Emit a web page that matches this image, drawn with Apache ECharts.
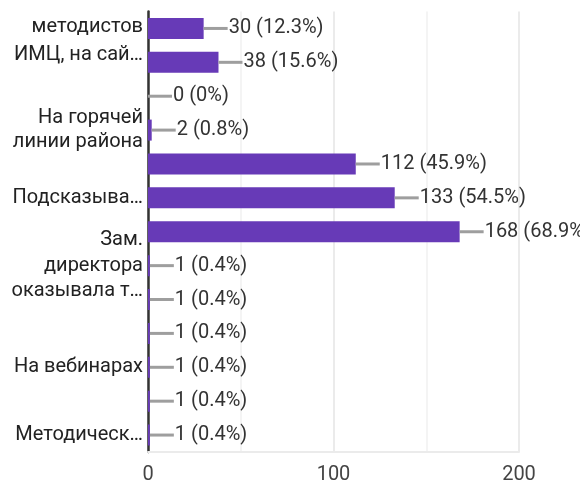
<!DOCTYPE html>
<html>
<head>
<meta charset="utf-8">
<script src="https://cdn.jsdelivr.net/npm/echarts@6/dist/echarts.min.js"></script>
<style>html,body{margin:0;padding:0;background:#fff}#c{width:580px;height:484px}</style>
</head>
<body>
<div id="c"></div>
<script>
const categories = [
  'методистов\nИМЦ, на сай…', '', '', 'На горячей\nлинии района', '',
  'Подсказыва…', '', 'Зам.\nдиректора\nоказывала т…', '', '',
  'На вебинарах', '', 'Методическ…'
];
const values = [30, 38, 0, 2, 112, 133, 168, 1, 1, 1, 1, 1, 1];
const percents = ['12.3%', '15.6%', '0%', '0.8%', '45.9%', '54.5%', '68.9%', '0.4%', '0.4%', '0.4%', '0.4%', '0.4%', '0.4%'];
const xTicks = [0, 100, 200];

const labelStyleByIndex = {0: 'c', 3: 'a', 7: 'b'};
const font = 'Roboto';
const chart = echarts.init(document.getElementById('c'), null, {renderer: 'canvas'});
chart.setOption({
  animation: false,
  grid: {left: 148, top: 11.5, right: 61, bottom: 32, containLabel: false, outerBoundsMode: 'none'},
  xAxis: {
    type: 'value', min: 0, max: 200, interval: 50,
    axisLine: {show: true, lineStyle: {color: '#ebebeb', width: 2}},
    axisTick: {show: false},
    splitLine: {show: true, lineStyle: {color: ['#ebebeb', '#f4f4f4'], width: 2}},
    axisLabel: {
      fontFamily: font, fontSize: 20, color: '#444', margin: 13,
      formatter: v => xTicks.includes(v) ? String(v) : ''
    }
  },
  yAxis: {
    type: 'category', inverse: true,
    data: categories,
    axisLine: {show: true, lineStyle: {color: '#333', width: 2.5}},
    axisTick: {show: false},
    axisLabel: {
      fontFamily: font, fontSize: 20, color: '#222', margin: 5, interval: 0,
      formatter: (v, i) => {
        const s = labelStyleByIndex[i] || 'n';
        if (!v) return '';
        const body = v.split('\n').map(line => '{' + s + '|' + line + '}').join('\n');
        return s === 'c' ? '{z| }\n' + body : body;
      },
      rich: {
        n: {fontFamily: font, fontSize: 20, color: '#222', lineHeight: 24},
        a: {fontFamily: font, fontSize: 20, color: '#222', lineHeight: 24},
        b: {fontFamily: font, fontSize: 20, color: '#222', lineHeight: 25.5},
        c: {fontFamily: font, fontSize: 20, color: '#222', lineHeight: 27.5},
        z: {fontFamily: font, fontSize: 20, lineHeight: 25.5}
      }
    }
  },
  series: [{
    type: 'bar',
    data: values,
    barWidth: '62%',
    itemStyle: {color: '#673ab7'},
    label: {
      show: true, position: 'right', distance: 0,
      formatter: p => '{l|}{t|' + values[p.dataIndex] + ' (' + percents[p.dataIndex] + ')}',
      rich: {
        l: {width: 24, height: 3, backgroundColor: '#9e9e9e'},
        t: {fontFamily: font, fontSize: 20, color: '#333', padding: [0, 0, 0, 1]}
      }
    }
  }]
});
</script>
</body>
</html>
